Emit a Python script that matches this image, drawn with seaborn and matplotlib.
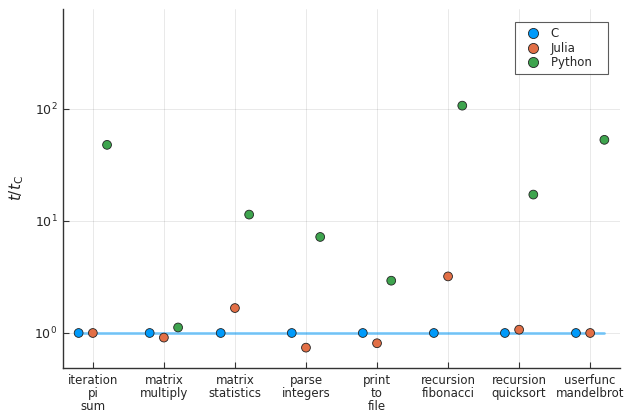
import numpy as np
import pandas as pd
import matplotlib
matplotlib.use("Agg")
import matplotlib.pyplot as plt
import seaborn as sns

sns.set_theme(style="white")
plt.rcParams['font.family'] = ['DejaVu Sans']

benchmarks = ["iteration\npi\nsum", "matrix\nmultiply", "matrix\nstatistics",
              "parse\nintegers", "print\nto\nfile", "recursion\nfibonacci",
              "recursion\nquicksort", "userfunc\nmandelbrot"]
languages = ["C", "Julia", "Python"]
c_ratio = [1.0, 1.0, 1.0, 1.0, 1.0, 1.0, 1.0, 1.0]
julia_ratio = [1.0, 0.91, 1.67, 0.74, 0.81, 3.2, 1.07, 1.0]
python_ratio = [47.8, 1.12, 11.4, 7.2, 2.93, 107.0, 17.2, 53.0]
colors = ["#009AFA", "#E26F46", "#3EA44E"]

offsets = {"C": -0.2, "Julia": 0.0, "Python": 0.2}
rows = []
for lang, vals in zip(languages, [c_ratio, julia_ratio, python_ratio]):
    for i, v in enumerate(vals):
        rows.append({"pos": i + offsets[lang], "ratio": v, "language": lang})
df = pd.DataFrame(rows)

fig = plt.figure(figsize=(6.28, 4.12), dpi=100)
ax = fig.add_axes([63 / 628, 1 - 368 / 412, 557 / 628, 359 / 412])

# reference line at t = t_C
ax.plot([df["pos"].min() - 0.05, df["pos"].max()], [1, 1], color="#009AFA",
        alpha=0.5, lw=2.0, zorder=1)

sns.scatterplot(data=df, x="pos", y="ratio", hue="language", hue_order=languages,
                palette=colors, s=40, edgecolor="#222222", linewidth=0.6,
                ax=ax, zorder=3)

ax.set_yscale("log")
ax.set_ylim(0.487, 780)
ax.set_xlim(-0.42, 7.42)
ax.set_xticks(range(len(benchmarks)))
ax.set_xticklabels(benchmarks, fontsize=8.5, linespacing=1.0)
ax.set_yticks([1, 10, 100])
ax.tick_params(axis="y", labelsize=9)
ax.minorticks_off()
ax.tick_params(direction="in", length=4, width=0.8, color="#333333",
               left=True, bottom=True, pad=4)
ax.grid(True, color="black", alpha=0.1, lw=0.6)
ax.set_xlabel("")
ax.set_ylabel(r"$t/t_{\mathrm{C}}$", fontsize=11, labelpad=6)
for s in ["top", "right"]:
    ax.spines[s].set_visible(False)
for s in ["left", "bottom"]:
    ax.spines[s].set_color("#333333")
    ax.spines[s].set_linewidth(1.0)

leg = ax.legend(loc="upper right", bbox_to_anchor=(608 / 628, 1 - 22 / 412),
                bbox_transform=fig.transFigure, borderaxespad=0,
                fontsize=8.5, frameon=True, fancybox=False, borderpad=0.45,
                handlelength=2.2, handletextpad=0.4, labelspacing=0.12,
                markerscale=1.15)
leg.get_frame().set_edgecolor("#333333")
leg.get_frame().set_linewidth(0.8)
for t in leg.get_texts():
    t.set_text(t.get_text() + "   ")

fig.savefig("out.png", dpi=100)
